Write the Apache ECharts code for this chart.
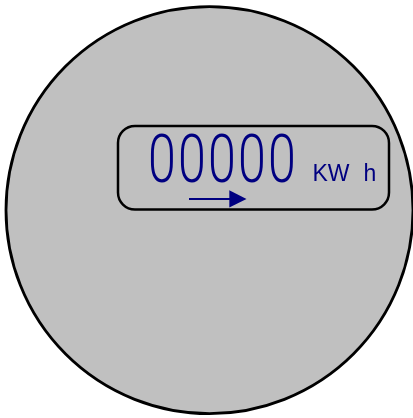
<!DOCTYPE html>
<html>
<head>
<meta charset="utf-8">
<script src="https://cdn.jsdelivr.net/npm/echarts@6/dist/echarts.min.js"></script>
<style>
  html, body { margin: 0; padding: 0; background: #fff; }
  #meter { width: 413px; height: 418px; }
</style>
</head>
<body>
<div id="meter"></div>
<script>
  // meter reading, one entry per digit drum
  var readingDigits = ['0', '0', '0', '0', '0'];
  // unit label parts
  var unitParts = ['KW', 'h'];

  var navy = '#000080';
  var chart = echarts.init(document.getElementById('meter'));

  var elements = [];
  // meter body
  elements.push({
    type: 'circle',
    shape: { cx: 209.5, cy: 210.2, r: 203.5 },
    style: { fill: '#c0c0c0', stroke: '#000', lineWidth: 2.8 }
  });
  // display window
  elements.push({
    type: 'rect',
    shape: { x: 118, y: 126, width: 271, height: 83.5, r: 17 },
    style: { fill: 'transparent', stroke: '#000', lineWidth: 2.5 }
  });

  // digits, drawn one by one so the spacing matches the drum layout
  for (var i = 0; i < readingDigits.length; i++) {
    elements.push({
      type: 'text',
      x: 162 + i * 30,
      y: 165.5,
      scaleX: 0.76,
      style: {
        text: readingDigits[i],
        x: 0, y: 0,
        fill: navy,
        fontFamily: 'Roboto',
        fontWeight: 300,
        fontSize: 66,
        align: 'center',
        verticalAlign: 'middle'
      }
    });
  }

  // unit
  elements.push({
    type: 'text',
    style: {
      text: unitParts[0],
      x: 312.5, y: 174.5,
      fill: navy,
      fontFamily: 'Liberation Sans',
      fontSize: 23,
      align: 'left',
      verticalAlign: 'middle'
    }
  });
  elements.push({
    type: 'text',
    style: {
      text: unitParts[1],
      x: 363.5, y: 174.5,
      fill: navy,
      fontFamily: 'Liberation Sans',
      fontSize: 23,
      align: 'left',
      verticalAlign: 'middle'
    }
  });

  // direction arrow
  elements.push({
    type: 'line',
    shape: { x1: 189, y1: 199, x2: 231, y2: 199 },
    style: { stroke: navy, lineWidth: 2 }
  });
  elements.push({
    type: 'polygon',
    shape: { points: [[229.3, 190.3], [246.5, 199], [229.3, 207.5]] },
    style: { fill: navy }
  });

  chart.setOption({
    animation: false,
    graphic: { elements: elements }
  });
</script>
</body>
</html>
